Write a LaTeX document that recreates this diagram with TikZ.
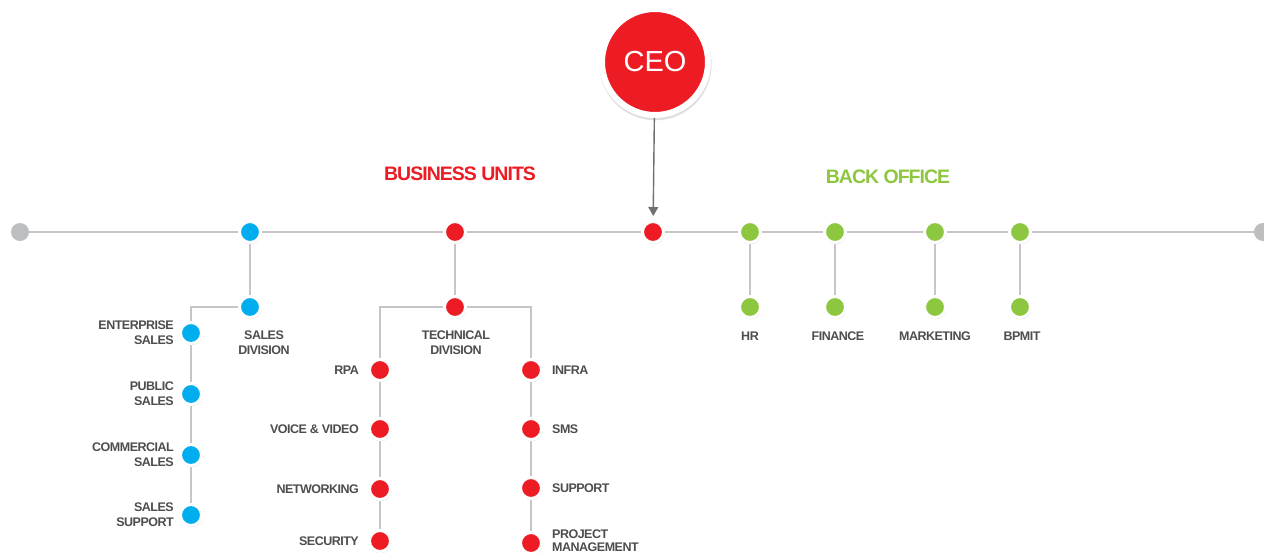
\documentclass[tikz,border=0pt]{standalone}
\usepackage{fontspec}
\setmainfont{Liberation Sans}
\usetikzlibrary{positioning,shadows,arrows.meta}
\definecolor{sblue}{HTML}{00AEEF}
\definecolor{sred}{HTML}{ED1C24}
\definecolor{sgreen}{HTML}{8DC63F}
\definecolor{endgray}{HTML}{BDBEC0}
\definecolor{linegray}{HTML}{C6C6C6}
\definecolor{labgray}{HTML}{4D4D4D}
\definecolor{arrowgray}{HTML}{707070}

\begin{document}
\begin{tikzpicture}[x=1pt,y=-1pt,
  dot/.style={circle,minimum size=21pt,inner sep=0pt,draw=white,line width=3pt,fill=#1,
    drop shadow={opacity=.25,shadow xshift=.6pt,shadow yshift=-1.2pt,shadow scale=1.05}},
  enddot/.style={circle,minimum size=18pt,inner sep=0pt,fill=endgray},
  lab/.style={font=\fontsize{12.5}{15}\selectfont\bfseries\addfontfeatures{LetterSpace=-4},text=labgray,inner sep=1pt},
  head/.style={font=\fontsize{19.5}{21}\selectfont\bfseries\addfontfeatures{LetterSpace=-5},text=#1,inner sep=1pt},
  link/.style={draw=linegray,line width=1.2pt}]
\useasboundingbox (0,0) rectangle (1264,552);

% top
\node[circle,fill=sred,draw=white,line width=6pt,minimum size=106pt,text=white,
  font=\fontsize{29}{30}\selectfont,
  drop shadow={opacity=.25,shadow xshift=.5pt,shadow yshift=-2pt,shadow scale=1.06}] (ceo) at (655,62) {CEO};
\node[head=sred] (bu) at (460,174) {BUSINESS UNITS};
\node[head=sgreen] (bo) at (888,177) {BACK OFFICE};

% main line
\node[enddot] (g1) at (20,232) {};
\node[enddot] (g2) at (1263,232) {};
\node[dot=sblue] (s0) at (250,232) {};
\node[dot=sred] (t0) at (455,232) {};
\node[dot=sred] (hub) at (653,232) {};
\node[dot=sgreen] (b1) at (750,232) {};
\node[dot=sgreen] (b2) at (835,232) {};
\node[dot=sgreen] (b3) at (935,232) {};
\node[dot=sgreen] (b4) at (1020,232) {};
\draw[link] (g1) -- (s0) -- (t0) -- (hub) -- (b1) -- (b2) -- (b3) -- (b4) -- (g2);
\draw[-{Triangle[width=10pt,length=9pt]},draw=arrowgray,fill=arrowgray,line width=1.4pt,shorten >=4pt] (ceo) -- (hub);

% sales
\node[dot=sblue] (sd) at (250,307) {};
\node[dot=sblue] (es) at (191,333) {};
\node[dot=sblue] (ps) at (191,394) {};
\node[dot=sblue] (cs) at (191,455) {};
\node[dot=sblue] (ss) at (191,515) {};
\draw[link] (s0) -- (sd);
\draw[link] (sd) -- (sd -| es) -- (es) -- (ps) -- (cs) -- (ss);
\node[lab,align=center] (sdl) at (264,343) {SALES\\DIVISION};
\node[lab,align=right,left=4pt of es] (esl) {ENTERPRISE\\SALES};
\node[lab,align=right,left=4pt of ps] (psl) {PUBLIC\\SALES};
\node[lab,align=right,left=4pt of cs] (csl) {COMMERCIAL\\SALES};
\node[lab,align=right,left=4pt of ss] (ssl) {SALES\\SUPPORT};

% technical
\node[dot=sred] (td) at (455,307) {};
\node[dot=sred] (rpa) at (380,370) {};
\node[dot=sred] (vv) at (380,429) {};
\node[dot=sred] (net) at (380,489) {};
\node[dot=sred] (sec) at (380,541) {};
\node[dot=sred] (inf) at (531,370) {};
\node[dot=sred] (sms) at (531,429) {};
\node[dot=sred] (sup) at (531,488) {};
\node[dot=sred] (pm) at (531,543) {};
\draw[link] (t0) -- (td);
\draw[link] (td) -- (td -| rpa) -- (rpa) -- (vv) -- (net) -- (sec);
\draw[link] (td) -- (td -| inf) -- (inf) -- (sms) -- (sup) -- (pm);
\node[lab,align=center] (tdl) at (456,343) {TECHNICAL\\DIVISION};
\node[lab,left=8pt of rpa] (rpal) {RPA};
\node[lab,left=8pt of vv] (vvl) {VOICE \& VIDEO};
\node[lab,left=8pt of net] (netl) {NETWORKING};
\node[lab,left=8pt of sec] (secl) {SECURITY};
\node[lab,right=8pt of inf] (infl) {INFRA};
\node[lab,right=8pt of sms] (smsl) {SMS};
\node[lab,right=8pt of sup] (supl) {SUPPORT};
\node[lab,align=left,right=8pt of pm,yshift=2pt,font=\fontsize{12.5}{13}\selectfont\bfseries\addfontfeatures{LetterSpace=-4}] (pml) {PROJECT\\MANAGEMENT};

% back office
\foreach \n/\t/\dx in {1/HR/0,2/FINANCE/3,3/MARKETING/0,4/BPMIT/2}{
  \node[dot=sgreen,below=51pt of b\n] (c\n) {};
  \draw[link] (b\n) -- (c\n);
  \node[lab,below=12pt of c\n,xshift=\dx pt] (cl\n) {\t};
}
\end{tikzpicture}
\end{document}
